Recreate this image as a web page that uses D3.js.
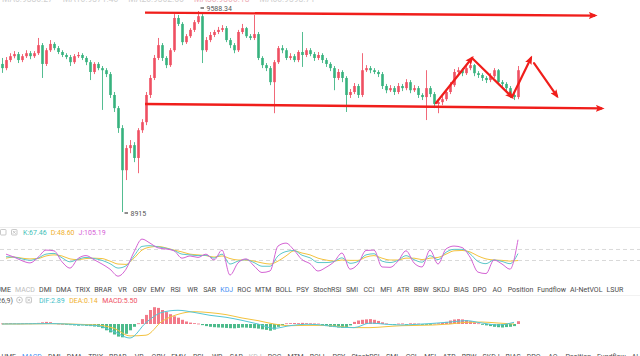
<!DOCTYPE html>
<html><head><meta charset="utf-8">
<script src="https://cdn.jsdelivr.net/npm/d3@7"></script>
<style>html,body{margin:0;padding:0;background:#fff;overflow:hidden}svg{display:block}</style>
</head><body>
<svg id="c" width="640" height="356"></svg>
<script>
// ---------- DATA ----------
const openP = [9411,9397,9424,9437,9444,9424,9437,9447,9437,9447,
9474,9411,9457,9478,9464,9451,9441,9434,9417,9437,
9441,9431,9417,9384,9411,9397,9390,9377,9307,9263,
9196,9055,9129,9139,9096,9189,9216,9307,9364,9431,
9474,9431,9407,9457,9565,9545,9484,9504,9525,9551,
9571,9457,9491,9508,9518,9525,9531,9491,9474,9457,
9518,9531,9504,9498,9511,9431,9407,9397,9350,9417,
9464,9457,9431,9437,9424,9451,9441,9457,9444,9431,
9441,9424,9411,9397,9364,9384,9364,9307,9317,9337,
9307,9390,9397,9390,9384,9377,9337,9323,9330,9317,
9337,9330,9350,9323,9330,9307,9300,9330,9310,9277,
9283,9293,9317,9340,9384,9390,9380,9397,9407,9380,
9374,9364,9357,9370,9390,9350,9344,9330,9307,9300];
const closeP = [9397,9424,9437,9444,9424,9437,9447,9437,9447,9474,
9411,9457,9478,9464,9451,9441,9434,9417,9437,9441,
9431,9417,9384,9411,9397,9390,9377,9307,9263,9196,
9055,9129,9139,9096,9189,9216,9307,9364,9431,9474,
9431,9407,9457,9565,9545,9484,9504,9525,9551,9571,
9457,9491,9508,9518,9525,9531,9491,9474,9457,9518,
9531,9504,9498,9511,9431,9407,9397,9350,9417,9464,
9457,9431,9437,9424,9451,9441,9457,9444,9431,9441,
9424,9411,9397,9364,9384,9364,9307,9317,9337,9307,
9390,9397,9390,9384,9377,9337,9323,9330,9317,9337,
9330,9350,9323,9330,9307,9300,9330,9310,9277,9283,
9293,9317,9340,9384,9390,9380,9397,9407,9380,9374,
9364,9357,9370,9390,9350,9344,9330,9307,9300,9390];
const highP = [9431,9434,9447,9454,9451,9444,9457,9454,9454,9498,
9481,9464,9491,9484,9471,9457,9447,9441,9444,9451,
9447,9437,9424,9417,9417,9404,9397,9384,9317,9270,
9206,9139,9156,9149,9196,9226,9317,9374,9441,9498,
9481,9437,9464,9578,9575,9551,9511,9531,9558,9588.34,
9578,9501,9518,9525,9535,9541,9538,9498,9481,9525,
9545,9535,9511,9575,9518,9437,9414,9404,9424,9471,
9474,9464,9447,9444,9457,9518,9464,9464,9451,9451,
9447,9431,9417,9404,9394,9390,9370,9327,9347,9344,
9447,9407,9404,9397,9390,9384,9344,9340,9337,9347,
9344,9360,9357,9340,9337,9313,9390,9337,9317,9293,
9303,9327,9350,9394,9400,9397,9407,9417,9411,9387,
9380,9370,9380,9397,9394,9357,9350,9337,9313,9404];
const lowP = [9381,9390,9417,9430,9414,9417,9431,9427,9431,9441,
9364,9404,9451,9457,9444,9434,9427,9404,9411,9431,
9424,9407,9357,9377,9390,9257,9367,9297,9250,9180,
8915,9022,9112,9082,9045,9180,9206,9297,9357,9424,
9421,9397,9401,9451,9538,9474,9478,9498,9518,9545,
9414,9451,9484,9501,9511,9518,9484,9464,9447,9451,
9511,9498,9491,9491,9424,9397,9387,9340,9246,9411,
9447,9424,9424,9417,9417,9401,9434,9437,9421,9424,
9414,9401,9387,9323,9357,9350,9250,9297,9310,9297,
9300,9384,9380,9377,9367,9327,9313,9317,9307,9310,
9320,9323,9313,9317,9297,9290,9223,9300,9263,9246,
9273,9287,9310,9334,9377,9370,9374,9390,9370,9364,
9354,9347,9350,9364,9340,9334,9320,9297,9290,9293];

// KDJ sampled every 2nd candle (candles 1,3,5,...,129)
const kdjK = [59,58,53,49,55,66,68,56,45,52,57,54,49,40,28,34,61,87,89,86,82,76,66,64,62,63,55,66,39,47,51,43,33,33,61,73,76,63,56,43,43,46,56,41,46,64,67,47,43,49,62,51,44,62,51,71,79,79,67,46,40,50,46,40,67.46];
const kdjD = [55,58,55,53,54,61,64,61,53,51,54,55,54,47,39,38,55,77,85,87,83,77,72,66,64,62,58,61,54,50,50,47,42,39,47,61,75,69,64,55,50,47,50,49,49,58,62,55,50,50,55,55,51,55,57,66,75,76,72,61,53,50,49,47,48.60];
const kdjJ = [66,58,48,42,57,77,75,45,28,54,62,51,39,25,6,25,72,107,96,83,80,75,55,61,57,66,50,77,9,42,53,34,16,20,88,96,77,51,40,20,30,45,69,25,39,76,77,31,30,47,75,42,31,77,39,80,88,84,58,17,13,50,39,25,105.19];
const kdjLevels = [80, 50];

// MACD: histogram per candle, DIF/DEA sampled every 4th candle
const macdHist = [0.4,0.5,0.6,0.5,0.4,0.5,0.6,0.5,0.7,0.8,
1.2,1.5,1.3,0.6,0.3,0.1,-0.2,-0.8,-1.0,-1.2,
-1.0,-1.3,-1.5,-1.8,-2.0,-3,-4.5,-6,-7.5,-9,
-9.5,-7,-4.5,-2,0.5,3.5,6.5,10,12,11.5,
10,8.5,7,5.5,4.5,3,1.8,1,0.6,0.3,
-0.8,-1.5,-2,-2.3,-2.5,-2.6,-2.8,-3,-3.1,-2.8,
-2.5,-2.6,-2.8,-3,-3.3,-3.8,-4.2,-4.8,-4,-2,
-0.8,0.5,0.6,0.7,0.6,0.8,0.6,0.5,0.4,0.3,
-1,-1.5,-2,-2.2,-2.5,-2.8,-2.6,-1,1.5,2.5,
3,3.3,3.5,3,2.2,1.2,0.4,-0.3,-0.5,0.3,
0.4,-0.3,0.5,0.4,0.3,-0.3,-0.5,-0.4,0.3,0.5,
0.8,1.5,2.5,3.2,3.5,3.3,2.8,2,1.2,0.5,
-0.3,-1,-1.5,-2,-2.3,-2.5,-2.2,-2,-1.5,2];
const macdDIF = [0,0.1,0.2,0.3,0,-0.6,-1.2,-5.5,-10,1,8.3,9.8,8.3,6.2,4.8,2.6,0,-3.1,-1.2,-0.2,-0.7,-2.1,-2.6,0.7,-0.2,-0.7,-0.2,0.5,1.4,2.4,0.7,-0.7,1.2];
const macdDEA = [0,0,0.1,0.2,0.1,-0.3,-0.8,-3.1,-8.5,-8,1.9,6.9,8.8,8.1,6.7,4.3,2.4,0,-1.2,-1,-1,-1.7,-2.6,-2.6,-1.9,-1.2,-1,-0.7,0,1.2,1.4,0.7,0];

// annotations: [candle index, price] pairs
const trendLines = [[35.75, 9583, 148.25, 9573], [35.75, 9277, 150, 9262]];
const swingArrows = [[108.5, 9280, 117.5, 9431], [117.5, 9431, 127.5, 9300], [127.5, 9300, 132.25, 9431], [133, 9414, 138.75, 9303]];

const tabLabels = ['VOLUME','MACD','DMI','DMA','TRIX','BRAR','VR','OBV','EMV','RSI','WR','SAR','KDJ','ROC','MTM','BOLL','PSY','StochRSI','SMI','CCI','MFI','ATR','BBW','SKDJ','BIAS','DPO','AO','Position','Fundflow','AI-NetVOL','LSUR'];
const kdjLegend = [['K:67.46','#3fbfb7'],['D:48.60','#f0b02c'],['J:105.19','#d65cd6']];
const macdLegend = [['DIF:2.89','#3fbfc9'],['DEA:0.14','#f0b02c'],['MACD:5.50','#ef4f62']];
const topStrip = [['MA5:9386.27','#cfcfcf'],['MA10:9371.40','#cfcfcf'],['MA20:9362.55','#cfcfcf'],['MA30:9360.18','#eeb0b8'],['MA60:9398.71','#cfcfcf']];

// ---------- DRAW ----------
const FONT = "Roboto, 'Noto Sans', Arial, sans-serif";
const svg = d3.select('#c');
const UP = '#ef4f62', DOWN = '#37b27e', ANN = '#f01e1b';
const x = d3.scaleLinear().domain([0, 129]).range([2, 518]);
const y = d3.scaleLinear().domain([8915, 9588.34]).range([212, 11]);

// faint top strip text (cut off at the top edge, as in the reference)
{
  let cx = 2;
  topStrip.forEach(([t, c]) => {
    const tx = svg.append('text').attr('x', cx).attr('y', 1.5).attr('font-family', FONT).attr('font-size', 8.5).attr('fill', c).text(t);
    cx += tx.node().getComputedTextLength() + 10;
  });
}

// candles
const idx = d3.range(closeP.length);
const cg = svg.append('g');
const col = i => closeP[i] >= openP[i] ? UP : DOWN;
cg.selectAll('line').data(idx).join('line')
  .attr('x1', i => x(i) + 0.5).attr('x2', i => x(i) + 0.5)
  .attr('y1', i => y(highP[i])).attr('y2', i => y(lowP[i]))
  .attr('stroke', col).attr('stroke-width', 1).attr('opacity', 0.85);
cg.selectAll('rect').data(idx).join('rect')
  .attr('x', i => x(i) - 0.8).attr('width', 2.6)
  .attr('y', i => y(Math.max(openP[i], closeP[i])))
  .attr('height', i => Math.max(1, Math.abs(y(openP[i]) - y(closeP[i]))))
  .attr('fill', col);

// high / low labels
function extremeLabel(i, price, text, dy) {
  const px = x(i) + 2.5, py = y(price);
  svg.append('line').attr('x1', px).attr('x2', px + 3.5).attr('y1', py + dy - 2.5).attr('y2', py + dy - 2.5).attr('stroke', '#444').attr('stroke-width', 1.2);
  svg.append('text').attr('x', px + 6).attr('y', py + dy).attr('font-family', FONT).attr('font-size', 7).attr('fill', '#555').text(text);
}
extremeLabel(49, highP[49], '9588.34', -0.5);
extremeLabel(30, lowP[30], '8915', 3.5);

// arrow markers
const defs = svg.append('defs');
defs.append('marker').attr('id', 'ah').attr('viewBox', '0 0 10 8').attr('refX', 7).attr('refY', 4)
  .attr('markerWidth', 9).attr('markerHeight', 7).attr('markerUnits', 'userSpaceOnUse').attr('orient', 'auto')
  .append('path').attr('d', 'M0,0 L10,4 L0,8 L2,4 Z').attr('fill', ANN);

svg.selectAll('line.trend').data(trendLines).join('line').attr('class', 'trend')
  .attr('x1', d => x(d[0])).attr('y1', d => y(d[1])).attr('x2', d => x(d[2])).attr('y2', d => y(d[3]))
  .attr('stroke', ANN).attr('stroke-width', 2.4).attr('marker-end', 'url(#ah)');
svg.selectAll('line.swing').data(swingArrows).join('line').attr('class', 'swing')
  .attr('x1', d => x(d[0])).attr('y1', d => y(d[1])).attr('x2', d => x(d[2])).attr('y2', d => y(d[3]))
  .attr('stroke', ANN).attr('stroke-width', 2.2).attr('stroke-linecap', 'round').attr('marker-end', 'url(#ah)');

// separators
svg.append('line').attr('x1', 0).attr('x2', 640).attr('y1', 227.5).attr('y2', 227.5).attr('stroke', '#eeeeee');
svg.append('line').attr('x1', 0).attr('x2', 640).attr('y1', 295.5).attr('y2', 295.5).attr('stroke', '#f2f2f2');

// icons
function boxIcon(px, py, cross) {
  svg.append('rect').attr('x', px).attr('y', py).attr('width', 5.5).attr('height', 5.5).attr('rx', 0.8)
    .attr('fill', 'none').attr('stroke', '#bbb').attr('stroke-width', 0.8);
  if (cross) svg.append('path').attr('d', `M${px+1.3},${py+1.3}L${px+4.2},${py+4.2}M${px+4.2},${py+1.3}L${px+1.3},${py+4.2}`)
    .attr('stroke', '#bbb').attr('stroke-width', 0.8);
}
function gearIcon(px, py) {
  svg.append('circle').attr('cx', px).attr('cy', py).attr('r', 2.9).attr('fill', 'none').attr('stroke', '#bbb').attr('stroke-width', 0.8);
  svg.append('circle').attr('cx', px).attr('cy', py).attr('r', 0.9).attr('fill', '#bbb');
}

// KDJ panel
const yK = d3.scaleLinear().domain([50, 100]).range([260, 241.65]);
const xK = k => x(2 * k + 1);
boxIcon(0.5, 229.5, false);
boxIcon(11.5, 229.5, true);
{
  let cx = 23;
  kdjLegend.forEach(([t, c]) => {
    const tx = svg.append('text').attr('x', cx).attr('y', 234.8).attr('font-family', FONT).attr('font-size', 7).attr('fill', c).text(t);
    cx += tx.node().getComputedTextLength() + 4;
  });
}
svg.selectAll('line.lvl').data(kdjLevels).join('line').attr('class', 'lvl')
  .attr('x1', 0).attr('x2', 640).attr('y1', d => yK(d) + 0.5).attr('y2', d => yK(d) + 0.5)
  .attr('stroke', '#cfcfcf').attr('stroke-width', 0.8).attr('stroke-dasharray', '4,3');
const kLine = d3.line().x((d, k) => xK(k)).y(d => yK(d)).curve(d3.curveMonotoneX);
[[kdjD, '#f3c23e'], [kdjK, '#5cc7c9'], [kdjJ, '#d464d4']].forEach(([arr, c]) => {
  svg.append('path').attr('d', kLine(arr)).attr('fill', 'none').attr('stroke', c).attr('stroke-width', 1);
});

// tab rows
function tabRow(baseY, startX, anchorIdx, anchorX, activeIdx, dimIdx) {
  const g = svg.append('g');
  const texts = tabLabels.map((t, i) => g.append('text').attr('y', baseY).attr('font-family', FONT).attr('font-size', 7)
    .attr('fill', i === activeIdx ? '#3f8ef2' : (i === dimIdx ? '#bdbdbd' : '#4a4a4a')).text(t));
  const w = texts.map(t => t.node().getComputedTextLength());
  const tabW = w.map(v => Math.max(v + 3, 16));
  const centres = [];
  let acc = 0;
  for (let i = 1; i < tabLabels.length; i++) { centres[i] = acc + tabW[i] / 2; acc += tabW[i]; }
  const natStart = centres[1] - w[1] / 2;
  const natAnchor = centres[anchorIdx] - w[anchorIdx] / 2;
  const extra = ((anchorX - startX) - (natAnchor - natStart)) / (anchorIdx - 1);
  for (let i = 1; i < tabLabels.length; i++) {
    const cx = startX + (centres[i] - natStart) + extra * (i - 1);
    texts[i].attr('x', cx).attr('text-anchor', 'middle');
  }
  texts[0].attr('x', startX - Math.max(3, extra + 3)).attr('text-anchor', 'end');
}
tabRow(292, 15, 30, 606.5, 12, 1);
tabRow(359, 22, 28, 597, 1, 12);

// MACD panel
const yM = d3.scaleLinear().domain([0, 10]).range([324, 310]);
const xM = j => x(4 * j);
svg.append('text').attr('x', 13).attr('y', 302.8).attr('text-anchor', 'end').attr('font-family', FONT).attr('font-size', 7).attr('fill', '#555').text('MACD(12,26,9)');
gearIcon(19.5, 300);
boxIcon(26, 297.3, true);
{
  let cx = 39;
  macdLegend.forEach(([t, c]) => {
    const tx = svg.append('text').attr('x', cx).attr('y', 302.8).attr('font-family', FONT).attr('font-size', 7).attr('fill', c).text(t);
    cx += tx.node().getComputedTextLength() + 4.5;
  });
}
svg.selectAll('rect.h').data(macdHist).join('rect').attr('class', 'h')
  .attr('x', (d, i) => x(i) - 1).attr('width', 3)
  .attr('y', d => d >= 0 ? yM(d) : yM(0))
  .attr('height', d => Math.max(0.8, Math.abs(yM(d) - yM(0))))
  .attr('fill', d => d >= 0 ? '#f27a89' : '#4dbb8c');
const mLine = d3.line().x((d, j) => xM(j)).y(d => yM(d)).curve(d3.curveMonotoneX);
svg.append('path').attr('d', mLine(macdDEA)).attr('fill', 'none').attr('stroke', '#f3c23e').attr('stroke-width', 1);
svg.append('path').attr('d', mLine(macdDIF)).attr('fill', 'none').attr('stroke', '#55c6d6').attr('stroke-width', 1);
</script>
</body></html>
